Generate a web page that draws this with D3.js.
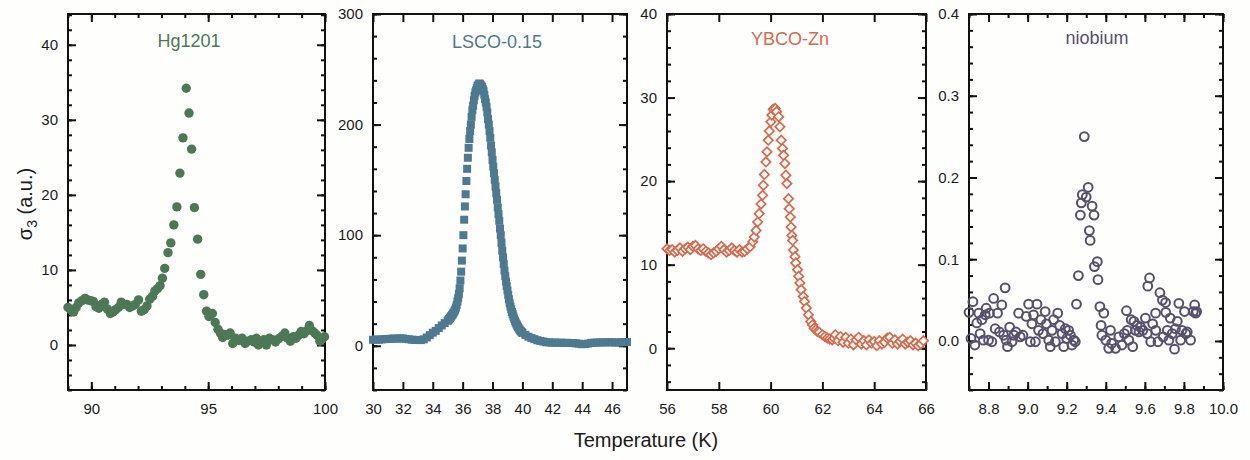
<!DOCTYPE html>
<html>
<head>
<meta charset="utf-8">
<script src="https://cdn.jsdelivr.net/npm/d3@7"></script>
<style>
  body { margin: 0; background: #fefefd; }
  svg { display: block; }
  text { font-family: "Liberation Sans", Arial, sans-serif; }
</style>
</head>
<body>
<svg id="chart" width="1250" height="460"></svg>
<script>
// ---- data: [temperature (K), sigma_3 (a.u.)] ----
const hg1201 = [
  [89.00,5.0],[89.12,4.7],[89.24,4.4],[89.35,5.0],[89.46,5.6],[89.60,5.9],[89.73,6.2],[89.85,6.0],
  [89.97,5.9],[90.08,5.8],[90.20,5.1],[90.32,4.9],[90.44,5.4],[90.56,5.7],[90.68,4.8],[90.81,4.2],
  [90.93,4.4],[91.04,4.7],[91.16,5.0],[91.28,5.7],[91.40,5.4],[91.52,5.4],[91.64,5.0],[91.76,5.2],
  [91.88,5.4],[92.02,6.0],[92.14,4.5],[92.26,4.7],[92.38,5.2],[92.50,6.1],[92.62,6.5],[92.72,7.2],
  [92.83,7.5],[92.94,7.9],[93.04,8.9],[93.14,10.2],[93.28,12.3],[93.40,13.6],[93.53,16.0],[93.66,18.4],
  [93.79,22.9],[93.92,27.6],[94.06,34.2],[94.18,30.9],[94.29,26.1],[94.41,18.3],[94.55,14.1],[94.68,9.4],
  [94.81,6.7],[94.93,4.5],[95.03,3.8],[95.18,4.2],[95.30,3.0],[95.42,2.1],[95.52,1.6],[95.62,1.0],
  [95.72,1.4],[95.84,1.3],[95.94,1.6],[96.05,0.2],[96.18,0.9],[96.32,0.6],[96.45,0.9],[96.58,0.2],
  [96.70,0.5],[96.84,0.7],[96.96,0.4],[97.06,0.9],[97.15,0.0],[97.28,0.5],[97.38,0.7],[97.49,0.0],
  [97.62,0.9],[97.75,0.7],[97.88,0.4],[98.00,0.8],[98.13,1.1],[98.28,1.6],[98.40,0.9],[98.52,0.5],
  [98.64,1.1],[98.76,0.9],[98.86,1.3],[98.98,1.8],[99.10,1.5],[99.22,1.9],[99.33,2.6],[99.45,1.9],
  [99.56,1.6],[99.66,1.3],[99.78,0.5],[99.88,0.8],[99.98,1.1]
];

const lsco = [
  [30.0,5.4],[30.2,5.6],[30.4,5.5],[30.6,5.8],[30.8,6.0],[31.0,6.2],[31.2,6.3],[31.4,6.6],[31.6,6.4],
  [31.8,6.7],[32.0,6.6],[32.2,6.2],[32.4,5.9],[32.6,5.5],[32.8,5.2],[33.0,5.3],[33.2,5.1],[33.4,5.8],
  [33.6,7.5],[33.8,9.6],[34.0,11.8],[34.2,13.5],[34.4,16.0],[34.6,18.4],[34.8,20.5],[35.0,22.6],
  [35.05,23.4],[35.10,24.3],[35.15,25.1],[35.20,26.0],[35.25,27.0],[35.30,28.0],[35.35,29.0],[35.40,30.0],
  [35.45,31.2],[35.50,32.6],[35.55,34.5],[35.60,37.0],[35.65,40.0],[35.70,43.0],[35.75,47.0],[35.80,52.0],
  [35.85,59.0],[35.90,67.0],[35.95,77.0],[36.00,88.0],[36.05,100.0],[36.10,114.0],[36.15,126.0],[36.20,137.0],
  [36.25,149.0],[36.30,160.0],[36.35,170.0],[36.40,179.0],[36.45,187.0],[36.50,194.0],[36.55,200.0],[36.60,207.0],
  [36.65,213.0],[36.70,217.0],[36.75,222.0],[36.80,226.0],[36.85,229.0],[36.90,231.0],[36.95,233.0],[37.00,235.0],
  [37.05,236.0],[37.10,237.0],[37.15,237.0],[37.20,236.0],[37.25,235.0],[37.30,234.0],[37.35,232.0],[37.40,230.0],
  [37.45,227.0],[37.50,223.0],[37.55,220.0],[37.60,216.0],[37.65,211.0],[37.70,205.0],[37.75,200.0],[37.80,194.0],
  [37.85,188.0],[37.90,181.0],[37.95,175.0],[38.00,168.0],[38.05,162.0],[38.10,156.0],[38.15,150.0],[38.20,144.0],
  [38.25,138.0],[38.30,132.0],[38.35,125.0],[38.40,119.0],[38.45,113.0],[38.50,106.0],[38.55,100.0],[38.60,93.0],
  [38.65,86.0],[38.70,80.0],[38.75,74.0],[38.80,68.0],[38.85,63.0],[38.90,58.0],[38.95,54.0],[39.00,50.0],
  [39.05,46.0],[39.10,42.0],[39.15,38.5],[39.20,35.5],[39.25,33.0],[39.30,30.5],[39.35,28.5],[39.40,26.5],
  [39.45,24.5],[39.50,22.5],[39.55,21.0],[39.60,19.5],[39.65,18.2],[39.70,17.0],[39.75,15.8],[39.80,14.8],
  [39.85,13.8],[39.90,13.0],[39.95,12.3],[40.00,11.6],[40.2,9.8],[40.4,8.2],[40.6,7.0],[40.8,6.0],
  [41.0,5.0],[41.2,4.4],[41.4,3.8],[41.6,3.2],[41.8,3.0],[42.0,2.8],[42.2,2.9],[42.4,2.7],[42.6,2.8],
  [42.8,2.6],[43.0,2.7],[43.2,2.5],[43.4,2.4],[43.6,2.2],[43.8,1.8],[44.0,1.4],[44.2,1.6],[44.4,2.0],
  [44.6,2.6],[44.8,2.8],[45.0,2.9],[45.2,3.0],[45.4,3.1],[45.6,3.0],[45.8,3.2],[46.0,3.1],[46.2,2.9],
  [46.4,3.0],[46.6,3.2],[46.8,3.3],[47.0,3.4]
];

const ybcoZn = [
  [56.0,11.9],[56.1,11.7],[56.2,11.8],[56.3,11.5],[56.4,11.7],[56.5,12.0],[56.6,11.6],[56.7,11.9],
  [56.8,12.1],[56.9,11.8],[57.0,12.2],[57.1,12.3],[57.2,11.9],[57.3,11.7],[57.4,11.9],[57.5,11.6],
  [57.6,11.4],[57.7,11.2],[57.8,11.4],[57.9,11.6],[58.0,11.9],[58.1,12.2],[58.2,11.8],[58.3,11.5],
  [58.4,11.7],[58.5,12.0],[58.6,11.7],[58.7,11.5],[58.8,11.8],[58.9,11.5],[59.0,11.6],[59.1,11.9],
  [59.21,12.15],[59.31,12.75],[59.37,13.3],[59.44,14.1],[59.50,15.1],[59.56,16.1],[59.63,17.25],[59.69,18.3],
  [59.72,19.5],[59.76,20.8],[59.82,22.3],[59.86,23.5],[59.91,24.9],[59.95,26.0],[60.01,27.1],[60.05,27.9],
  [60.10,28.6],[60.18,28.7],[60.23,28.3],[60.31,27.7],[60.36,26.5],[60.41,24.9],[60.46,23.9],[60.50,23.1],
  [60.55,22.1],[60.59,20.7],[60.63,19.7],[60.69,17.9],[60.72,16.7],[60.76,15.7],[60.79,14.5],[60.82,13.5],
  [60.85,12.9],[60.88,11.75],[60.94,10.95],[60.97,10.2],[61.04,9.4],[61.08,8.6],[61.13,7.8],[61.18,7.0],
  [61.26,6.2],[61.31,5.6],[61.38,4.8],[61.46,4.0],[61.55,3.2],[61.62,2.8],[61.68,2.4],[61.75,2.2],
  [61.81,2.0],[61.88,1.9],[62.00,1.6],[62.10,1.4],[62.19,1.2],[62.28,1.1],[62.38,1.0],[62.45,1.2],
  [62.5,1.6],[62.6,0.9],[62.7,1.4],[62.8,0.7],[62.9,1.3],[63.0,0.6],[63.1,1.1],[63.2,0.4],[63.3,1.0],
  [63.4,1.3],[63.5,0.5],[63.6,0.9],[63.7,0.4],[63.8,1.0],[63.9,0.6],[64.0,0.8],[64.1,0.3],[64.2,0.9],
  [64.3,0.5],[64.4,0.7],[64.5,1.2],[64.6,1.3],[64.7,0.6],[64.8,1.0],[64.9,0.5],[65.0,0.8],[65.1,1.1],
  [65.2,0.5],[65.3,0.7],[65.4,0.9],[65.5,0.4],[65.6,0.6],[65.7,0.3],[65.8,0.5],[65.9,0.9]
];

const niobium = [
  [8.700,0.035],[8.710,0.003],[8.720,0.048],[8.730,-0.005],[8.740,0.022],[8.750,0.034],[8.757,0.009],
  [8.766,0.026],[8.774,0.001],[8.783,0.032],[8.788,0.040],[8.800,0.001],[8.805,0.034],[8.817,-0.001],
  [8.826,0.052],[8.834,0.015],[8.846,0.034],[8.856,0.011],[8.868,0.044],[8.877,0.007],[8.885,0.065],
  [8.890,0.001],[8.897,-0.007],[8.908,0.017],[8.920,-0.001],[8.930,0.007],[8.940,0.011],[8.954,0.034],
  [8.962,0.005],[8.976,0.007],[8.993,0.030],[9.005,0.045],[9.014,-0.001],[9.022,0.021],[9.030,0.032],
  [9.040,-0.001],[9.048,0.045],[9.056,0.013],[9.068,0.026],[9.079,0.009],[9.090,0.036],[9.096,0.021],
  [9.108,0.001],[9.116,-0.007],[9.125,0.013],[9.133,0.026],[9.142,-0.001],[9.154,0.034],[9.164,0.019],
  [9.176,0.009],[9.185,-0.007],[9.193,0.015],[9.200,0.003],[9.210,0.013],[9.219,0.007],[9.227,-0.005],
  [9.236,0.001],[9.244,-0.001],
  [9.250,0.045],[9.260,0.080],[9.270,0.154],[9.275,0.169],[9.280,0.179],[9.290,0.250],[9.300,0.176],
  [9.310,0.188],[9.316,0.135],[9.320,0.123],[9.330,0.165],[9.340,0.154],[9.342,0.091],[9.357,0.097],
  [9.360,0.075],[9.370,0.042],[9.376,0.019],[9.390,0.034],
  [9.380,0.007],[9.400,0.001],[9.415,-0.009],[9.424,0.013],[9.430,-0.003],[9.450,-0.009],[9.467,0.005],
  [9.483,-0.005],[9.495,0.009],[9.506,0.037],[9.510,0.013],[9.518,0.001],[9.530,0.026],[9.538,-0.007],
  [9.544,0.024],[9.552,0.013],[9.560,0.019],[9.570,0.011],[9.578,0.017],[9.590,0.013],[9.603,0.028],
  [9.612,0.009],[9.615,0.067],[9.624,0.077],[9.630,-0.001],[9.640,0.021],[9.655,0.034],[9.656,0.013],
  [9.667,-0.001],[9.677,0.059],[9.690,0.050],[9.694,0.005],[9.706,0.047],[9.707,0.035],[9.715,0.013],
  [9.723,0.001],[9.730,0.028],[9.740,0.009],[9.752,-0.010],[9.757,0.015],[9.766,0.024],[9.774,0.046],
  [9.783,0.001],[9.790,0.013],[9.803,0.036],[9.810,0.009],[9.817,0.011],[9.834,0.001],[9.848,0.036],
  [9.855,0.044],[9.860,0.034],[9.865,0.036]
];

// ---- axis ticks ----
const hgXTicks = [90, 95, 100];
const hgYTicks = [0, 10, 20, 30, 40];
const lscoXTicks = [30, 32, 34, 36, 38, 40, 42, 44, 46];
const lscoYTicks = [0, 100, 200, 300];
const ybcoXTicks = [56, 58, 60, 62, 64, 66];
const ybcoYTicks = [0, 10, 20, 30, 40];
const nbXTicks = [8.8, 9.0, 9.2, 9.4, 9.6, 9.8, 10.0];
const nbYTicks = [0.0, 0.1, 0.2, 0.3, 0.4];

const panelTitles = ["Hg1201", "LSCO-0.15", "YBCO-Zn", "niobium"];
const colors = ["#4d7855", "#4e7a90", "#d9694b", "#56506c"];

const TOP = 14, BOTTOM = 390;
const svg = d3.select("#chart");

const panels = [
  { data: hg1201, title: panelTitles[0], color: colors[0], left: 68, right: 325,
    xDomain: [89, 100], yDomain: [-6, 44.1], xMajor: hgXTicks, yMajor: hgYTicks,
    xMinor: d3.range(89, 100.5, 1), yMinor: d3.range(-6, 44.5, 2),
    xFmt: d3.format("d"), yFmt: d3.format("d"), mark: "dot", titleX: 189, titleY: 47 },
  { data: lsco, title: panelTitles[1], color: colors[1], left: 373, right: 627,
    xDomain: [30, 47], yDomain: [-40, 300], xMajor: lscoXTicks, yMajor: lscoYTicks,
    xMinor: [], yMinor: d3.range(-40, 301, 20),
    xFmt: d3.format("d"), yFmt: d3.format("d"), mark: "square", titleX: 497, titleY: 48 },
  { data: ybcoZn, title: panelTitles[2], color: colors[2], left: 667, right: 926,
    xDomain: [56, 66], yDomain: [-5, 40], xMajor: ybcoXTicks, yMajor: ybcoYTicks,
    xMinor: [], yMinor: d3.range(-4, 40.5, 2),
    xFmt: d3.format("d"), yFmt: d3.format("d"), mark: "diamond", titleX: 790, titleY: 45 },
  { data: niobium, title: panelTitles[3], color: colors[3], left: 969, right: 1223,
    xDomain: [8.7, 10.0], yDomain: [-0.06, 0.4], xMajor: nbXTicks, yMajor: nbYTicks,
    xMinor: d3.range(87, 101, 1).map(v => v / 10), yMinor: d3.range(-3, 21, 1).map(v => v / 50),
    xFmt: d3.format(".1f"), yFmt: d3.format(".1f"), mark: "ring", titleX: 1097, titleY: 44 }
];

function styleAxis(sel) {
  sel.select(".domain").remove();
  sel.selectAll(".tick line").attr("stroke", "#111").attr("stroke-width", 2);
  sel.selectAll(".tick text").attr("fill", "#1a1a1a")
    .style("font-size", "15px").style("font-family", '"Liberation Sans", Arial, sans-serif');
}

function drawPanel(p) {
  const x = d3.scaleLinear().domain(p.xDomain).range([p.left, p.right]);
  const y = d3.scaleLinear().domain(p.yDomain).range([BOTTOM, TOP]);
  const g = svg.append("g");

  const add = (axis, tx, ty) =>
    g.append("g").attr("transform", `translate(${tx},${ty})`).call(axis).call(styleAxis);

  // minor ticks on all four sides
  add(d3.axisBottom(x).tickValues(p.xMinor).tickSize(-4).tickFormat(""), 0, BOTTOM);
  add(d3.axisTop(x).tickValues(p.xMinor).tickSize(-4).tickFormat(""), 0, TOP);
  add(d3.axisLeft(y).tickValues(p.yMinor).tickSize(-4).tickFormat(""), p.left, 0);
  add(d3.axisRight(y).tickValues(p.yMinor).tickSize(-4).tickFormat(""), p.right, 0);

  // major ticks, labelled on bottom and left
  add(d3.axisBottom(x).tickValues(p.xMajor).tickSize(-8).tickPadding(13).tickFormat(p.xFmt), 0, BOTTOM);
  add(d3.axisTop(x).tickValues(p.xMajor).tickSize(-8).tickFormat(""), 0, TOP);
  add(d3.axisLeft(y).tickValues(p.yMajor).tickSize(-8).tickPadding(10).tickFormat(p.yFmt), p.left, 0);
  add(d3.axisRight(y).tickValues(p.yMajor).tickSize(-8).tickFormat(""), p.right, 0);

  // frame
  g.append("rect")
    .attr("x", p.left).attr("y", TOP)
    .attr("width", p.right - p.left).attr("height", BOTTOM - TOP)
    .attr("fill", "none").attr("stroke", "#111").attr("stroke-width", 2);

  // title
  g.append("text")
    .attr("x", p.titleX).attr("y", p.titleY)
    .attr("text-anchor", "middle")
    .attr("fill", p.color)
    .style("font-size", "18px")
    .text(p.title);

  // markers
  const m = g.append("g");
  if (p.mark === "dot") {
    m.selectAll("circle").data(p.data).join("circle")
      .attr("cx", d => x(d[0])).attr("cy", d => y(d[1])).attr("r", 4.7)
      .attr("fill", p.color);
  } else if (p.mark === "square") {
    m.selectAll("rect").data(p.data).join("rect")
      .attr("x", d => x(d[0]) - 4).attr("y", d => y(d[1]) - 4)
      .attr("width", 8).attr("height", 8)
      .attr("fill", p.color);
  } else if (p.mark === "diamond") {
    const sym = d3.symbol().type(d3.symbolSquare).size(44);
    m.selectAll("path").data(p.data).join("path")
      .attr("d", sym)
      .attr("transform", d => `translate(${x(d[0])},${y(d[1])}) rotate(45)`)
      .attr("fill", "#fefefd").attr("stroke", p.color).attr("stroke-width", 1.7);
  } else {
    m.selectAll("circle").data(p.data).join("circle")
      .attr("cx", d => x(d[0])).attr("cy", d => y(d[1])).attr("r", 4.4)
      .attr("fill", "none").attr("stroke", p.color).attr("stroke-width", 2);
  }
}

panels.forEach(drawPanel);

// shared axis titles
const yLab = svg.append("text")
  .attr("transform", "translate(32,204) rotate(-90)")
  .attr("text-anchor", "middle")
  .attr("fill", "#1a1a1a")
  .style("font-size", "20px");
yLab.append("tspan").text("σ");
yLab.append("tspan").attr("dy", 5).style("font-size", "14px").text("3");
yLab.append("tspan").attr("dy", -5).text(" (a.u.)");

svg.append("text")
  .attr("x", 646).attr("y", 447)
  .attr("text-anchor", "middle")
  .attr("fill", "#1a1a1a")
  .style("font-size", "20px")
  .text("Temperature (K)");
</script>
</body>
</html>
